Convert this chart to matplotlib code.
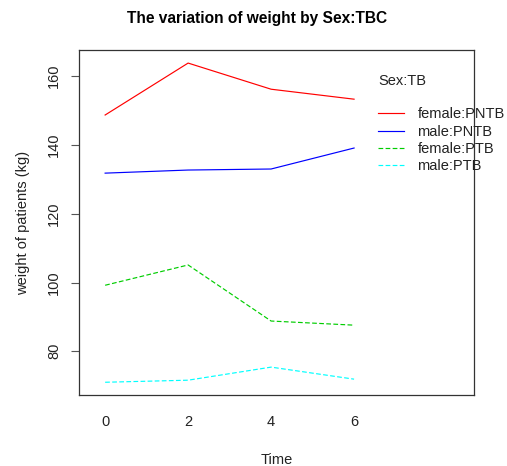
import matplotlib
matplotlib.use("Agg")
import matplotlib.pyplot as plt
from matplotlib.lines import Line2D

plt.rcParams['font.family'] = ['Liberation Sans', 'DejaVu Sans']

time = [0, 2, 4, 6]
series_names = ["female:PNTB", "male:PNTB", "female:PTB", "male:PTB"]
female_pntb = [148.7, 163.8, 156.2, 153.3]
male_pntb = [131.8, 132.7, 133.0, 139.1]
female_ptb = [99.2, 105.1, 88.8, 87.6]
male_ptb = [71.0, 71.6, 75.4, 71.9]
yticks = [80, 100, 120, 140, 160]

values = [female_pntb, male_pntb, female_ptb, male_ptb]
colors = ["#FF0000", "#0000FF", "#00CD00", "#00FFFF"]
styles = ["-", "-", (0, (4, 2)), (0, (4, 2))]

fs = 10.5
fig = plt.figure(figsize=(5.07, 4.66), dpi=100)
ax = fig.add_axes([0.1558, 0.1524, 0.7791, 0.7403])
for v, c, s in zip(values, colors, styles):
    ax.plot(time, v, color=c, linestyle=s, linewidth=0.85)

ax.set_xlim(-0.63, 8.89)
ax.set_ylim(67.3, 167.6)
ax.set_xticks(time)
ax.set_xticklabels([str(t) for t in time])
ax.set_yticks(yticks)
ax.set_yticklabels([str(t) for t in yticks], rotation=90, va='center')
ax.tick_params(axis='x', length=0, pad=14.5, labelsize=fs, labelcolor='#222222')
ax.tick_params(axis='y', length=6, width=0.8, pad=7, labelsize=fs, color='#555555', labelcolor='#222222')
for sp in ax.spines.values():
    sp.set_color('#333333')
    sp.set_linewidth(0.9)

ax.set_xlabel("Time", fontsize=fs, labelpad=17, color='#222222')
ax.set_ylabel("weight of patients (kg)", fontsize=fs, labelpad=12, color='#222222')
fig.suptitle("The variation of weight by Sex:TBC", fontsize=11.2, fontweight='bold', y=0.977, x=0.508)

handles = [Line2D([0], [0], color=c, linestyle=s, linewidth=0.85) for c, s in zip(colors, styles)]
leg = fig.legend(handles, series_names, title="Sex:TB\n", loc='upper left',
                 bbox_to_anchor=(378 / 507, 1 - 74 / 466), frameon=False, fontsize=fs, title_fontsize=fs,
                 handlelength=1.75, handletextpad=0.95, labelspacing=0.22, borderaxespad=0, borderpad=0)
leg._legend_box.align = "left"
for t in leg.get_texts():
    t.set_color('#222222')
leg.get_title().set_color('#222222')
fig.savefig("out.png", dpi=100)
